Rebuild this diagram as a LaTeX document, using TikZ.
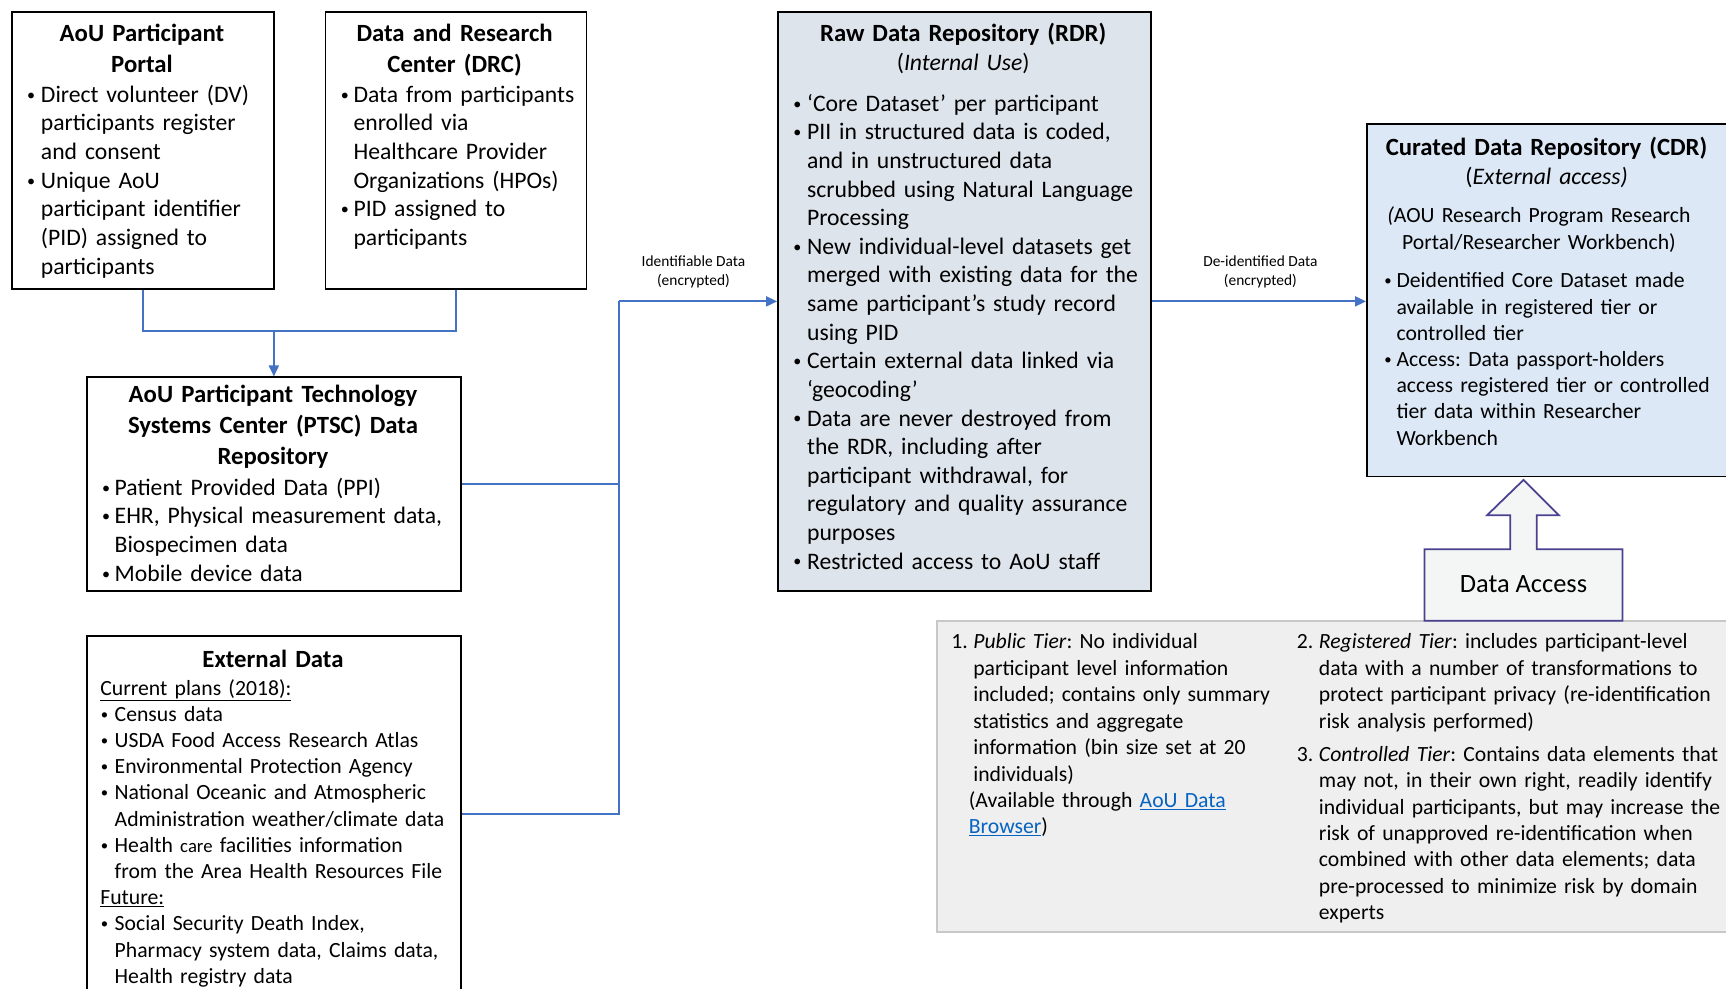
\documentclass[tikz,border=0pt]{standalone}
\usepackage{fontspec}
\usepackage{graphicx}
\setmainfont{Carlito}
\usetikzlibrary{arrows.meta}
\definecolor{connblue}{HTML}{4472C4}
\definecolor{rdrfill}{HTML}{DEE4EC}
\definecolor{cdrfill}{HTML}{DCE8F5}
\definecolor{tierfill}{HTML}{EFEFEF}
\definecolor{tierdraw}{HTML}{C8C8C8}
\definecolor{dadraw}{HTML}{4A4290}
\definecolor{dafill}{HTML}{F4F5F5}
\definecolor{linkblue}{HTML}{0563C1}
\newlength\bhang
\setlength\bhang{12.5pt}
\newcommand\smallbullet{\raisebox{0.09em}{\scalebox{0.68}{\textbullet}}}
% first item of a node: no \par (node text already starts in horizontal mode)
\newcommand\fitem{\hangindent=\bhang\hangafter=1\makebox[\bhang][l]{\hspace{0.5pt}\smallbullet}}
\newcommand\bitem{\par\noindent\fitem}
\newcommand\fnitem[2]{\hangindent=#1\hangafter=1\makebox[#1][l]{#2}}
\newcommand\nitem[2]{\par\noindent\fnitem{#1}{#2}}
\newcommand\nl{\hfil\break}
\newcommand\weblink[1]{\textcolor{linkblue}{\underline{#1}}}
\begin{document}
\frenchspacing
\begin{tikzpicture}[x=1pt,y=-1pt,
  box/.style={draw=black, line width=1.6pt, fill=white, anchor=north west, inner sep=0pt},
  ttl/.style={anchor=base, align=center, text width=340pt, inner sep=0pt, font=\fontsize{22.5}{28}\selectfont\bfseries},
  body/.style={anchor=base west, text width=520pt, inner sep=0pt, font=\frenchspacing\fontsize{21.5}{26}\selectfont},
  sbody/.style={body, font=\frenchspacing\fontsize{19.7}{23.8}\selectfont},
  conn/.style={draw=connblue, line width=1.8pt},
  arr/.style={conn, -{Triangle[length=10pt,width=9pt]}},
  lbl/.style={align=center, inner sep=0pt, font=\fontsize{14}{18}\selectfont}
]
\path[use as bounding box, fill=white] (0,0) rectangle (1568,898);
\clip (0,0) rectangle (1568,898);

% boxes
\node[box, minimum width=238pt, minimum height=252pt] (A) at (10,10) {};
\node[box, minimum width=237pt, minimum height=252pt] (B) at (295,10) {};
\node[box, minimum width=340pt, minimum height=194pt] (C) at (78,342) {};
\node[box, minimum width=340pt, minimum height=324pt] (D) at (78,577) {};
\node[box, fill=rdrfill, minimum width=339pt, minimum height=526pt] (E) at (706,10) {};
\node[box, fill=cdrfill, minimum width=340pt, minimum height=320pt] (F) at (1241,112) {};
\node[box, draw=tierdraw, fill=tierfill, line width=1.8pt, minimum width=740pt, minimum height=283pt] (G) at (850,563) {};

% data access block arrow
\draw[draw=dadraw, fill=dafill, line width=1.6pt, line join=miter]
  (1294,564) -- (1294,499) -- (1372,499) -- (1372,468) -- (1351,468) -- (1384,436)
  -- (1416,468) -- (1396,468) -- (1396,499) -- (1474,499) -- (1474,564) -- cycle;
\node[inner sep=0pt, font=\fontsize{24}{28}\selectfont] (DA) at (1384,531) {Data Access};

% box A
\node[ttl] (At) at (129,38) {AoU Participant\\Portal};
\node[body] (Ab) at (24,93) {\setlength\bhang{13pt}%
\fitem Direct volunteer (DV)\nl participants register\nl and consent
\bitem Unique AoU\nl participant identifier\nl (PID) assigned to\nl participants\par};

% box B
\node[ttl] (Bt) at (413,38) {Data and Research\\Center (DRC)};
\node[body] (Bb) at (309,93) {\setlength\bhang{12pt}%
\fitem Data from participants\nl enrolled via\nl Healthcare Provider\nl Organizations (HPOs)
\bitem PID assigned to\nl participants\par};

% box C
\node[ttl] (Ct) at (248,366) {AoU Participant Technology\\Systems Center (PTSC) Data\\Repository};
\node[body] (Cb) at (92,450) {\setlength\bhang{12pt}%
\fitem Patient Provided Data (PPI)
\bitem EHR, Physical measurement data,\nl Biospecimen data
\bitem Mobile device data\par};

% box D
\node[ttl] (Dt) at (248,606) {External Data};
\node[sbody] (Db) at (91,631.5) {\setlength\bhang{13pt}%
\underline{Current plans (2018):}
\bitem Census data
\bitem USDA Food Access Research Atlas
\bitem Environmental Protection Agency
\bitem National Oceanic and Atmospheric\nl Administration weather/climate data
\bitem Health {\fontsize{17}{20}\selectfont care} facilities information\nl from the Area Health Resources File
\par\noindent\underline{Future:}
\bitem Social Security Death Index,\nl Pharmacy system data, Claims data,\nl Health registry data\par};

% box E
\node[ttl, font=\fontsize{21.5}{26}\selectfont] (Et) at (875,38) {{\fontsize{22.5}{26}\selectfont\bfseries Raw Data Repository (RDR)}\\(\textit{Internal Use})};
\node[body] (Eb) at (720,101) {\setlength\bhang{13pt}%
\fitem ‘Core Dataset’ per participant
\bitem PII in structured data is coded,\nl and in unstructured data\nl scrubbed using Natural Language\nl Processing
\bitem New individual-level datasets get\nl merged with existing data for the\nl same participant’s study record\nl using PID
\bitem Certain external data linked via\nl ‘geocoding’
\bitem Data are never destroyed from\nl the RDR, including after\nl participant withdrawal, for\nl regulatory and quality assurance\nl purposes
\bitem Restricted access to AoU staff\par};

% box F
\node[ttl, font=\fontsize{21.5}{27}\selectfont] (Ft) at (1405,141) {{\fontsize{22.5}{27}\selectfont\bfseries Curated Data Repository (CDR)}\\(\textit{External access)}};
\node[ttl, font=\fontsize{19.7}{24}\selectfont] (Fs) at (1398,202.5) {\textit{(}AOU Research Program Research\\Portal/Researcher Workbench)};
\node[sbody] (Fb) at (1257,261.5) {\setlength\bhang{11.5pt}%
\fitem Deidentified Core Dataset made\nl available in registered tier or\nl controlled tier
\bitem Access: Data passport-holders\nl access registered tier or controlled\nl tier data within Researcher\nl Workbench\par};

% box G (tiers)
\node[sbody, font=\frenchspacing\fontsize{19.7}{24}\selectfont] (G1) at (864,589.5) {%
\fnitem{20pt}{1.}\textit{Public Tier}: No individual\nl participant level information\nl included; contains only summary\nl statistics and aggregate\nl information (bin size set at 20\nl individuals)
\par\noindent\hangindent=16pt\hangafter=0 (Available through \weblink{AoU Data}\nl\weblink{Browser})\par};
\node[sbody, font=\frenchspacing\fontsize{19.7}{24}\selectfont] (G2) at (1178,589.5) {%
\fnitem{20pt}{2.}\textit{Registered Tier}: includes participant-level\nl data with a number of transformations to\nl protect participant privacy (re-identification\nl risk analysis performed)
\par\vspace{6pt}
\nitem{20pt}{3.}\textit{Controlled Tier}: Contains data elements that\nl may not, in their own right, readily identify\nl individual participants, but may increase the\nl risk of unapproved re-identification when\nl combined with other data elements; data\nl pre-processed to minimize risk by domain\nl experts\par};

% connectors
\coordinate (j1) at (C.north |- 0,301);
\coordinate (j2) at (562,0);
\draw[conn] (A.south) |- (j1) -| (B.south);
\draw[arr] (j1) -- (C.north);
\draw[conn] (C.east) -- (C.east -| j2);
\draw[conn] (D.east) -- (D.east -| j2) -- (j2 |- E.west);
\draw[arr] (j2 |- E.west) -- (E.west);
\draw[arr] (E.east) -- (E.east -| F.west);

% labels
\node[lbl] (L1) at (630,247) {Identifiable Data\\(encrypted)};
\node[lbl] (L2) at (1145,247) {De-identified Data\\(encrypted)};
\end{tikzpicture}
\end{document}
